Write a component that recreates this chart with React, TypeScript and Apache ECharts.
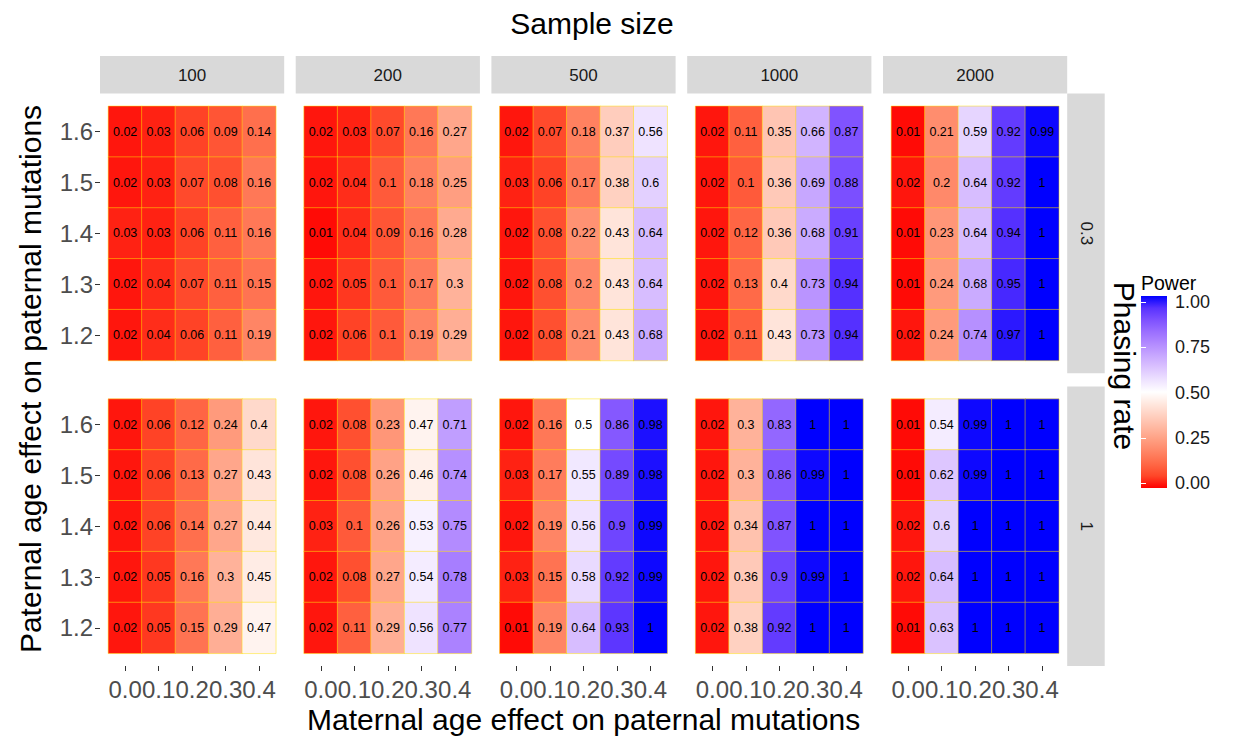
import React, { useEffect, useRef } from 'react';
import * as echarts from 'echarts';

const xCategories = ['0.0', '0.1', '0.2', '0.3', '0.4'];
const yCategories = ['1.2', '1.3', '1.4', '1.5', '1.6'];
const sampleSizes = ['100', '200', '500', '1000', '2000'];
const phasingRates = ['0.3', '1'];
const legendTicks = [0, 0.25, 0.5, 0.75, 1];

// Each array: rows from top (1.6) to bottom (1.2); columns 0.0 .. 0.4
const power03n100 = [
  [0.02, 0.03, 0.06, 0.09, 0.14],
  [0.02, 0.03, 0.07, 0.08, 0.16],
  [0.03, 0.03, 0.06, 0.11, 0.16],
  [0.02, 0.04, 0.07, 0.11, 0.15],
  [0.02, 0.04, 0.06, 0.11, 0.19],
];
const power03n200 = [
  [0.02, 0.03, 0.07, 0.16, 0.27],
  [0.02, 0.04, 0.1, 0.18, 0.25],
  [0.01, 0.04, 0.09, 0.16, 0.28],
  [0.02, 0.05, 0.1, 0.17, 0.3],
  [0.02, 0.06, 0.1, 0.19, 0.29],
];
const power03n500 = [
  [0.02, 0.07, 0.18, 0.37, 0.56],
  [0.03, 0.06, 0.17, 0.38, 0.6],
  [0.02, 0.08, 0.22, 0.43, 0.64],
  [0.02, 0.08, 0.2, 0.43, 0.64],
  [0.02, 0.08, 0.21, 0.43, 0.68],
];
const power03n1000 = [
  [0.02, 0.11, 0.35, 0.66, 0.87],
  [0.02, 0.1, 0.36, 0.69, 0.88],
  [0.02, 0.12, 0.36, 0.68, 0.91],
  [0.02, 0.13, 0.4, 0.73, 0.94],
  [0.02, 0.11, 0.43, 0.73, 0.94],
];
const power03n2000 = [
  [0.01, 0.21, 0.59, 0.92, 0.99],
  [0.02, 0.2, 0.64, 0.92, 1],
  [0.01, 0.23, 0.64, 0.94, 1],
  [0.01, 0.24, 0.68, 0.95, 1],
  [0.02, 0.24, 0.74, 0.97, 1],
];
const power1n100 = [
  [0.02, 0.06, 0.12, 0.24, 0.4],
  [0.02, 0.06, 0.13, 0.27, 0.43],
  [0.02, 0.06, 0.14, 0.27, 0.44],
  [0.02, 0.05, 0.16, 0.3, 0.45],
  [0.02, 0.05, 0.15, 0.29, 0.47],
];
const power1n200 = [
  [0.02, 0.08, 0.23, 0.47, 0.71],
  [0.02, 0.08, 0.26, 0.46, 0.74],
  [0.03, 0.1, 0.26, 0.53, 0.75],
  [0.02, 0.08, 0.27, 0.54, 0.78],
  [0.02, 0.11, 0.29, 0.56, 0.77],
];
const power1n500 = [
  [0.02, 0.16, 0.5, 0.86, 0.98],
  [0.03, 0.17, 0.55, 0.89, 0.98],
  [0.02, 0.19, 0.56, 0.9, 0.99],
  [0.03, 0.15, 0.58, 0.92, 0.99],
  [0.01, 0.19, 0.64, 0.93, 1],
];
const power1n1000 = [
  [0.02, 0.3, 0.83, 1, 1],
  [0.02, 0.3, 0.86, 0.99, 1],
  [0.02, 0.34, 0.87, 1, 1],
  [0.02, 0.36, 0.9, 0.99, 1],
  [0.02, 0.38, 0.92, 1, 1],
];
const power1n2000 = [
  [0.01, 0.54, 0.99, 1, 1],
  [0.01, 0.62, 0.99, 1, 1],
  [0.02, 0.6, 1, 1, 1],
  [0.02, 0.64, 1, 1, 1],
  [0.01, 0.63, 1, 1, 1],
];

const facetData = [
  [power03n100, power03n200, power03n500, power03n1000, power03n2000],
  [power1n100, power1n200, power1n500, power1n1000, power1n2000],
];

// red - white - blue diverging gradient (Lab-interpolated), midpoint 0.5
const powerColors = [
  '#FF0000', '#FF4628', '#FF6846', '#FF8464', '#FF9E81', '#FFB7A0', '#FFCFBF', '#FFE7DE',
  '#FFFFFF',
  '#EEE2FF', '#DCC4FF', '#C8A8FF', '#B38BFF', '#9B6FFF', '#7E51FF', '#5932FF', '#0000FF',
];

const FONT = 'Liberation Sans, Arial, Helvetica, sans-serif';
const PANEL_LEFT = [100, 295.7, 491.4, 687.2, 883];
const PANEL_W = 184.2;
const PANEL_TOP = [93.6, 386.4];
const PANEL_H = 279.6;
const PAD_X = 8.4;
const PAD_Y = 12.7;

function buildOption() {
  const grids: any[] = [];
  const xAxes: any[] = [];
  const yAxes: any[] = [];
  const series: any[] = [];
  let idx = 0;
  for (let r = 0; r < phasingRates.length; r++) {
    for (let c = 0; c < sampleSizes.length; c++) {
      grids.push({
        left: PANEL_LEFT[c] + PAD_X,
        top: PANEL_TOP[r] + PAD_Y,
        width: PANEL_W - 2 * PAD_X,
        height: PANEL_H - 2 * PAD_Y,
        containLabel: false,
      });
      xAxes.push({
        type: 'category',
        gridIndex: idx,
        data: xCategories,
        position: 'bottom',
        offset: PAD_Y,
        show: r === 1,
        axisLine: { show: false },
        axisTick: { show: true, alignWithLabel: true, length: 5, lineStyle: { color: '#333333', width: 1 } },
        axisLabel: { interval: 0, fontSize: 24, color: '#4D4D4D', margin: 11, fontFamily: FONT },
        splitLine: { show: false },
      });
      yAxes.push({
        type: 'category',
        gridIndex: idx,
        data: yCategories,
        position: 'left',
        offset: PAD_X,
        show: c === 0,
        axisLine: { show: false },
        axisTick: { show: true, alignWithLabel: true, length: 5, lineStyle: { color: '#333333', width: 1 } },
        axisLabel: { interval: 0, fontSize: 24, color: '#4D4D4D', margin: 7, fontFamily: FONT },
        splitLine: { show: false },
      });
      const rows = facetData[r][c];
      const data: any[] = [];
      rows.forEach((row, ri) => {
        row.forEach((v, ci) => {
          data.push([ci, yCategories.length - 1 - ri, v]);
        });
      });
      series.push({
        type: 'heatmap',
        name: `${phasingRates[r]}-${sampleSizes[c]}`,
        xAxisIndex: idx,
        yAxisIndex: idx,
        data,
        itemStyle: { borderColor: 'rgba(255,225,0,0.6)', borderWidth: 0.8 },
        label: {
          show: true,
          formatter: (p: any) => String(p.value[2]),
          fontSize: 12.5,
          color: '#000000',
          fontFamily: FONT,
        },
        emphasis: { disabled: true },
      });
      idx++;
    }
  }

  // legend colourbar axis
  const lgIdx = idx;
  grids.push({ left: 1141, top: 302, width: 26, height: 181 });
  xAxes.push({ type: 'value', gridIndex: lgIdx, show: false, min: 0, max: 1 });
  yAxes.push({
    type: 'value',
    gridIndex: lgIdx,
    min: 0,
    max: 1,
    interval: 0.25,
    position: 'right',
    z: 10,
    axisLine: { show: false },
    axisTick: { show: true, inside: true, length: 5, lineStyle: { color: '#FFFFFF', width: 1 } },
    axisLabel: { formatter: (v: number) => v.toFixed(2), fontSize: 18, color: '#1A1A1A', margin: 8, fontFamily: FONT },
    splitLine: { show: false },
  });
  yAxes.push({
    type: 'value',
    gridIndex: lgIdx,
    min: 0,
    max: 1,
    interval: 0.25,
    position: 'left',
    z: 10,
    axisLine: { show: false },
    axisTick: { show: true, inside: true, length: 5, lineStyle: { color: '#FFFFFF', width: 1 } },
    axisLabel: { show: false },
    splitLine: { show: false },
  });

  const graphics: any[] = [];
  // top strips
  sampleSizes.forEach((s, c) => {
    graphics.push({
      type: 'rect',
      shape: { x: PANEL_LEFT[c], y: 56.1, width: PANEL_W, height: 37.5 },
      style: { fill: '#D9D9D9' },
      silent: true,
    });
    graphics.push({
      type: 'text',
      x: PANEL_LEFT[c] + PANEL_W / 2,
      y: 75,
      style: { text: s, fontSize: 17, fontFamily: FONT, fill: '#1A1A1A', align: 'center', verticalAlign: 'middle' },
      silent: true,
    });
  });
  // right strips
  phasingRates.forEach((p, r) => {
    graphics.push({
      type: 'rect',
      shape: { x: 1067.2, y: PANEL_TOP[r], width: 37.5, height: PANEL_H },
      style: { fill: '#D9D9D9' },
      silent: true,
    });
    graphics.push({
      type: 'text',
      x: 1086,
      y: PANEL_TOP[r] + PANEL_H / 2,
      rotation: -Math.PI / 2,
      style: { text: p, fontSize: 17, fontFamily: FONT, fill: '#1A1A1A', align: 'center', verticalAlign: 'middle' },
      silent: true,
    });
  });
  // titles
  graphics.push({
    type: 'text',
    x: 592,
    y: 23,
    style: { text: 'Sample size', fontSize: 30, fontFamily: FONT, fill: '#000000', align: 'center', verticalAlign: 'middle' },
    silent: true,
  });
  graphics.push({
    type: 'text',
    x: 583.6,
    y: 719,
    style: { text: 'Maternal age effect on paternal mutations', fontSize: 30, fontFamily: FONT, fill: '#000000', align: 'center', verticalAlign: 'middle' },
    silent: true,
  });
  graphics.push({
    type: 'text',
    x: 30,
    y: 379,
    rotation: Math.PI / 2,
    style: { text: 'Paternal age effect on paternal mutations', fontSize: 30, fontFamily: FONT, fill: '#000000', align: 'center', verticalAlign: 'middle' },
    silent: true,
  });
  graphics.push({
    type: 'text',
    x: 1124,
    y: 366,
    rotation: -Math.PI / 2,
    style: { text: 'Phasing rate', fontSize: 30, fontFamily: FONT, fill: '#000000', align: 'center', verticalAlign: 'middle' },
    silent: true,
  });
  // legend
  graphics.push({
    type: 'text',
    x: 1141,
    y: 283,
    style: { text: 'Power', fontSize: 19.5, fontFamily: FONT, fill: '#000000', align: 'left', verticalAlign: 'middle' },
    silent: true,
  });
  const n = powerColors.length;
  graphics.push({
    type: 'rect',
    z: -1,
    shape: { x: 1141, y: 296, width: 26, height: 192 },
    style: {
      fill: {
        type: 'linear',
        x: 0,
        y: 0,
        x2: 0,
        y2: 1,
        colorStops: powerColors
          .slice()
          .reverse()
          .map((col, i) => ({ offset: i / (n - 1), color: col })),
      },
    },
    silent: true,
  });

  return {
    animation: false,
    backgroundColor: '#FFFFFF',
    textStyle: { fontFamily: FONT },
    grid: grids,
    xAxis: xAxes,
    yAxis: yAxes,
    visualMap: {
      type: 'continuous',
      show: false,
      min: legendTicks[0],
      max: legendTicks[legendTicks.length - 1],
      seriesIndex: series.map((_, i) => i),
      inRange: { color: powerColors },
    },
    series,
    graphic: { elements: graphics },
  };
}

export default function App() {
  const ref = useRef<HTMLDivElement>(null);
  useEffect(() => {
    if (!ref.current) return;
    const chart = echarts.init(ref.current, undefined, { renderer: 'svg' });
    chart.setOption(buildOption() as any);
    return () => chart.dispose();
  }, []);
  return (
    <div
      ref={ref}
      style={{ position: 'fixed', left: 0, top: 0, width: 1236, height: 736 }}
    />
  );
}
